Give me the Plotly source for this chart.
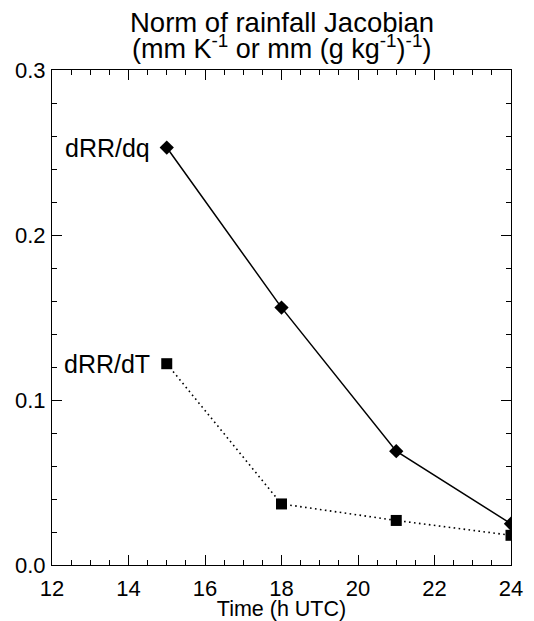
import plotly.graph_objects as go

# Norm of the rainfall Jacobian at each analysis time
time_h = [15, 18, 21, 24]
drr_dq = [0.253, 0.156, 0.069, 0.025]
drr_dt = [0.122, 0.037, 0.027, 0.018]

series_labels = ["dRR/dq", "dRR/dT"]

FONT = "Liberation Sans, Arial, Helvetica, sans-serif"

fig = go.Figure()

fig.add_trace(go.Scatter(
    x=time_h, y=drr_dq, mode="lines+markers",
    line=dict(color="black", width=1.5),
    marker=dict(symbol="diamond", size=11, color="black"),
    showlegend=False,
))
fig.add_trace(go.Scatter(
    x=time_h, y=drr_dt, mode="lines+markers",
    line=dict(color="black", width=1.6, dash="1.6px,3.4px"),
    marker=dict(symbol="square", size=11, color="black"),
    showlegend=False,
))

# Series labels placed just left of the first point
for lab, yv in zip(series_labels, [drr_dq[0], drr_dt[0]]):
    fig.add_annotation(
        x=time_h[0], y=yv, xref="x", yref="y", text=lab, showarrow=False,
        xanchor="right", yanchor="middle", xshift=-15,
        font=dict(family=FONT, size=25, color="black"),
    )

# Two-line title with tight line spacing
fig.add_annotation(
    x=0.5, y=(565 - 22) / 495, xref="paper", yref="paper",
    text="Norm of rainfall Jacobian", showarrow=False,
    xanchor="center", yanchor="middle",
    font=dict(family=FONT, size=27.5, color="black"),
)
fig.add_annotation(
    x=0.5, y=(565 - 47) / 495, xref="paper", yref="paper",
    text="(mm K<sup>-1</sup> or mm (g kg<sup>-1</sup>)<sup>-1</sup>)",
    showarrow=False, xanchor="center", yanchor="middle",
    font=dict(family=FONT, size=27, color="black"),
)

axis_common = dict(
    showline=True, linecolor="black", linewidth=1, mirror="ticks",
    ticks="inside", ticklen=10, tickwidth=1, tickcolor="black",
    showgrid=False, zeroline=False,
    tickfont=dict(family=FONT, size=22, color="black"),
)

fig.update_xaxes(
    range=[12, 24], tick0=12, dtick=2,
    minor=dict(dtick=0.5, ticks="inside", ticklen=5, tickcolor="black", tickwidth=1, showgrid=False),
    title=dict(text="Time (h UTC)", font=dict(family=FONT, size=21.5, color="black"), standoff=0),
    ticklabelstandoff=4,
    **axis_common,
)
fig.update_yaxes(
    range=[0, 0.3], tick0=0, dtick=0.1, tickformat=".1f",
    minor=dict(dtick=0.02, ticks="inside", ticklen=5, tickcolor="black", tickwidth=1, showgrid=False),
    ticklabelstandoff=1,
    **axis_common,
)

fig.update_layout(
    width=534, height=621,
    margin=dict(l=52, r=23, t=70, b=56, autoexpand=False),
    paper_bgcolor="white", plot_bgcolor="white",
    font=dict(family=FONT, color="black"),
)

fig.write_html("out.html")
